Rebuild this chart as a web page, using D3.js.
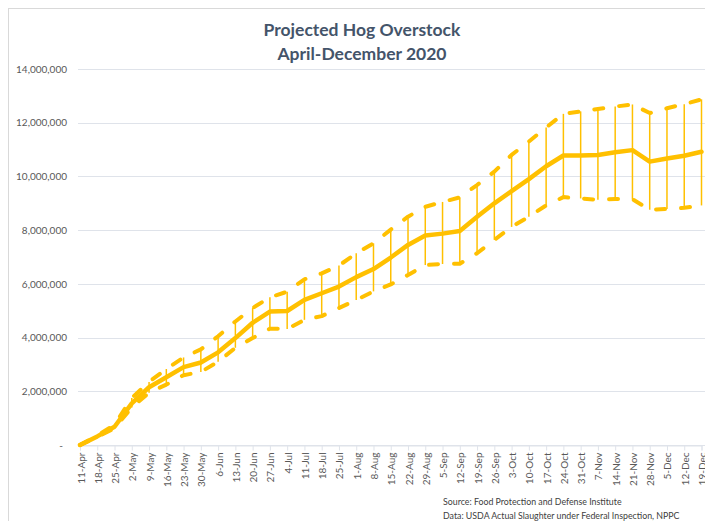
<!DOCTYPE html>
<html>
<head>
<meta charset="utf-8">
<script src="https://cdnjs.cloudflare.com/ajax/libs/d3/7.8.5/d3.min.js"></script>
<style>
    body { margin: 0; background: #fff; }
    svg { display: block; font-family: Lato, "Open Sans", sans-serif; }
</style>
</head>
<body>
<div id="chart"></div>
<script>

// weekly categories
var weeks = ["11-Apr","18-Apr","25-Apr","2-May","9-May","16-May","23-May","30-May","6-Jun","13-Jun",
    "20-Jun","27-Jun","4-Jul","11-Jul","18-Jul","25-Jul","1-Aug","8-Aug","15-Aug","22-Aug","29-Aug",
    "5-Sep","12-Sep","19-Sep","26-Sep","3-Oct","10-Oct","17-Oct","24-Oct","31-Oct","7-Nov","14-Nov",
    "21-Nov","28-Nov","5-Dec","12-Dec","19-Dec"];

// projected overstock (head)
var projected = [0, 320000, 680000, 1550000, 2150000, 2520000, 2900000, 3070000, 3450000, 3980000,
    4550000, 4970000, 4990000, 5400000, 5650000, 5900000, 6250000, 6550000, 6980000, 7450000, 7800000,
    7870000, 7970000, 8500000, 9000000, 9450000, 9900000, 10380000, 10780000, 10780000, 10800000, 10900000,
    10980000, 10550000, 10670000, 10770000, 10920000];

var upper = [0, 350000, 750000, 1750000, 2350000, 2830000, 3260000, 3560000, 4050000, 4600000,
    5100000, 5500000, 5710000, 6170000, 6390000, 6680000, 7140000, 7510000, 8020000, 8500000, 8870000,
    9050000, 9220000, 9680000, 10180000, 10800000, 11300000, 11820000, 12330000, 12420000, 12510000, 12600000,
    12680000, 12360000, 12540000, 12690000, 12870000];

var lower = [0, 300000, 620000, 1400000, 1950000, 2250000, 2600000, 2720000, 3100000, 3620000,
    3980000, 4330000, 4320000, 4660000, 4800000, 5100000, 5400000, 5720000, 5980000, 6330000, 6700000,
    6740000, 6750000, 7140000, 7640000, 8120000, 8500000, 8920000, 9230000, 9180000, 9130000, 9160000,
    9150000, 8760000, 8790000, 8830000, 8920000];

var yTicks = [0, 2000000, 4000000, 6000000, 8000000, 10000000, 12000000, 14000000];

var titleLines = ["Projected Hog Overstock", "April-December 2020"];
var sourceLines = ["Source: Food Protection and Defense Institute",
    "Data: USDA Actual Slaughter under Federal Inspection, NPPC"];


HogChart = function(_parentElement){
    this.parentElement = _parentElement;
    this.initVis();
}

HogChart.prototype.initVis = function(){
    var vis = this;

    vis.width = 705;
    vis.height = 521;
    vis.gold = "#FFC000";

    vis.svg = d3.select(vis.parentElement).append("svg")
        .attr("width", vis.width)
        .attr("height", vis.height);

    // chart frame (right and bottom edges fall outside the picture)
    vis.svg.append("rect")
        .attr("x", 8.5)
        .attr("y", 8.5)
        .attr("width", 720)
        .attr("height", 540)
        .style("fill", "none")
        .style("stroke", "#d9d9d9");

    vis.x = d3.scalePoint()
        .domain(weeks)
        .range([80, 701.5]);

    vis.y = d3.scaleLinear()
        .domain([0, 14000000])
        .range([445, 69]);

    vis.data = weeks.map(function(w, i) {
        return { week: w, mid: projected[i], hi: upper[i], lo: lower[i] };
    });

    vis.updateVis();
};

HogChart.prototype.updateVis = function(){
    var vis = this;

    // gridlines
    vis.svg.selectAll(".grid")
        .data(yTicks)
        .enter().append("line")
        .attr("class", "grid")
        .attr("x1", 78)
        .attr("x2", vis.width)
        .attr("y1", function(d) { return Math.round(vis.y(d)) + 0.5; })
        .attr("y2", function(d) { return Math.round(vis.y(d)) + 0.5; })
        .style("stroke", "#dfe3ea")
        .style("stroke-width", 1);

    // y axis labels
    var yAxis = d3.axisLeft(vis.y)
        .tickValues(yTicks)
        .tickSize(0)
        .tickPadding(0)
        .tickFormat(function(d) { return d === 0 ? "-" : d3.format(",")(d); });

    var yg = vis.svg.append("g")
        .attr("transform", "translate(67,0)")
        .call(yAxis);
    yg.select(".domain").remove();
    yg.selectAll("text")
        .style("font-size", "10px")
        .style("fill", "#595959")
        .style("font-family", "Lato, sans-serif");
    yg.selectAll(".tick")
        .filter(function(d) { return d === 0; })
        .select("text")
        .attr("x", -4);

    // x axis
    var xAxis = d3.axisBottom(vis.x)
        .tickSize(5)
        .tickPadding(4);

    var xg = vis.svg.append("g")
        .attr("transform", "translate(0," + (Math.round(vis.y(0)) + 0.5) + ")")
        .call(xAxis);
    xg.select(".domain").style("stroke", "#dfe3ea");
    xg.selectAll(".tick line").style("stroke", "#dfe3ea");
    xg.selectAll("text")
        .attr("transform", "rotate(-90)")
        .attr("x", -7)
        .attr("y", 0.5)
        .attr("dy", "0.35em")
        .style("text-anchor", "end")
        .style("font-size", "10px")
        .style("fill", "#595959")
        .style("font-family", "Lato, sans-serif");

    // high-low lines
    vis.svg.selectAll(".hilo")
        .data(vis.data)
        .enter().append("line")
        .attr("class", "hilo")
        .attr("x1", function(d) { return vis.x(d.week); })
        .attr("x2", function(d) { return vis.x(d.week); })
        .attr("y1", function(d) { return vis.y(d.hi); })
        .attr("y2", function(d) { return vis.y(d.lo); })
        .style("stroke", vis.gold)
        .style("stroke-width", 1.5);

    var line = function(key) {
        return d3.line()
            .x(function(d) { return vis.x(d.week); })
            .y(function(d) { return vis.y(d[key]); });
    };

    // upper and lower bounds, long dashes
    ["hi", "lo"].forEach(function(key) {
        vis.svg.append("path")
            .datum(vis.data)
            .attr("d", line(key))
            .style("fill", "none")
            .style("stroke", vis.gold)
            .style("stroke-width", 4)
            .style("stroke-linecap", "round")
            .style("stroke-linejoin", "round")
            .style("stroke-dasharray", "9,16");
    });

    // projected overstock
    vis.svg.append("path")
        .datum(vis.data)
        .attr("d", line("mid"))
        .style("fill", "none")
        .style("stroke", vis.gold)
        .style("stroke-width", 4.5)
        .style("stroke-linecap", "round")
        .style("stroke-linejoin", "round");

    // title
    vis.svg.selectAll(".title")
        .data(titleLines)
        .enter().append("text")
        .attr("class", "title")
        .attr("x", 362)
        .attr("y", function(d, i) { return 36 + i * 24; })
        .attr("text-anchor", "middle")
        .style("font-size", "17.5px")
        .style("font-weight", "bold")
        .style("fill", "#44546a")
        .text(function(d) { return d; });

    // source note
    vis.svg.selectAll(".source")
        .data(sourceLines)
        .enter().append("text")
        .attr("class", "source")
        .attr("x", 443)
        .attr("y", function(d, i) { return 505 + i * 13.5; })
        .style("font-size", "8.8px")
        .style("fill", "#404040")
        .text(function(d) { return d; });
};

var chart = new HogChart("#chart");

</script>
</body>
</html>
